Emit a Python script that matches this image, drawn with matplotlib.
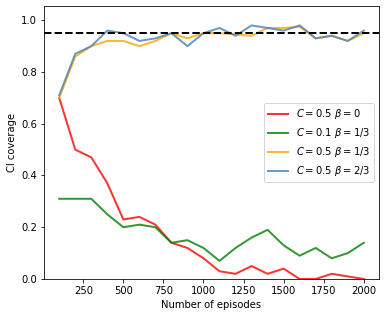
import numpy as np
import matplotlib
matplotlib.use("Agg")
import matplotlib.pyplot as plt

episodes = [100, 200, 300, 400, 500, 600, 700, 800, 900, 1000,
            1100, 1200, 1300, 1400, 1500, 1600, 1700, 1800, 1900, 2000]

cov_c05_b0 = [0.70, 0.50, 0.47, 0.37, 0.23, 0.24, 0.21, 0.14, 0.12, 0.08,
              0.03, 0.02, 0.05, 0.02, 0.04, 0.00, 0.00, 0.02, 0.01, 0.00]
cov_c01_b13 = [0.31, 0.31, 0.31, 0.25, 0.20, 0.21, 0.20, 0.14, 0.15, 0.12,
               0.07, 0.12, 0.16, 0.19, 0.13, 0.09, 0.12, 0.08, 0.10, 0.14]
cov_c05_b13 = [0.70, 0.86, 0.90, 0.92, 0.92, 0.90, 0.92, 0.95, 0.93, 0.95,
               0.95, 0.945, 0.94, 0.97, 0.97, 0.975, 0.93, 0.94, 0.92, 0.95]
cov_c05_b23 = [0.71, 0.87, 0.90, 0.96, 0.95, 0.92, 0.93, 0.95, 0.90, 0.95,
               0.97, 0.94, 0.98, 0.97, 0.96, 0.98, 0.93, 0.94, 0.92, 0.96]

target = 0.95

fig = plt.figure(figsize=(386 / 72, 317 / 72), dpi=72)
ax = fig.add_axes([44 / 386, 1 - 279 / 317, 335 / 386, 273 / 317])

ax.plot(episodes, cov_c05_b0, color='red', alpha=0.8, lw=2, label=r'$C = 0.5\ \beta = 0$')
ax.plot(episodes, cov_c01_b13, color='green', alpha=0.8, lw=2, label=r'$C = 0.1\ \beta = 1/3$')
ax.plot(episodes, cov_c05_b13, color='orange', alpha=0.8, lw=2, label=r'$C = 0.5\ \beta = 1/3$')
ax.plot(episodes, cov_c05_b23, color='steelblue', alpha=0.8, lw=2, label=r'$C = 0.5\ \beta = 2/3$')
ax.axhline(target, color='black', ls='--', lw=2)

ax.set_ylim(0, 1.055)
ax.set_xlabel('Number of episodes')
ax.set_ylabel('CI coverage')
ax.legend(loc='center right')

fig.savefig('out.png', dpi=72)
